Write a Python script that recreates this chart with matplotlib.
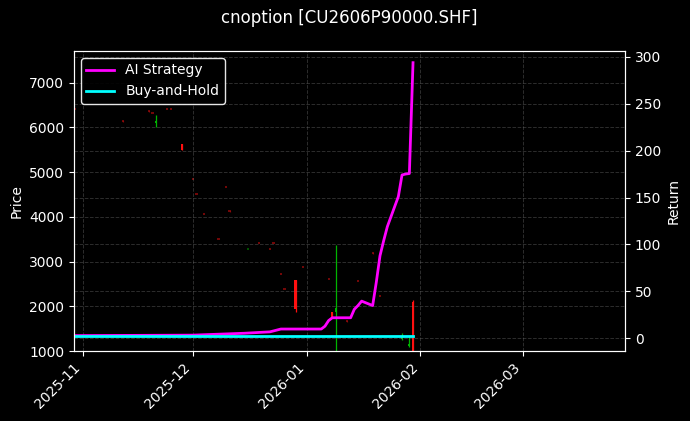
import matplotlib
matplotlib.use('Agg')
import matplotlib.pyplot as plt
import matplotlib.dates as mdates
import numpy as np
import pandas as pd

# candles: date, open, high, low, close
candle_dates = ['2025-10-30', '2025-11-12', '2025-11-19', '2025-11-20', '2025-11-21',
                '2025-11-24', '2025-11-25', '2025-11-28', '2025-12-01', '2025-12-02',
                '2025-12-04', '2025-12-08', '2025-12-10', '2025-12-11', '2025-12-16',
                '2025-12-19', '2025-12-22', '2025-12-23', '2025-12-25', '2025-12-26',
                '2025-12-29', '2025-12-31', '2026-01-07', '2026-01-08', '2026-01-09',
                '2026-01-12', '2026-01-15', '2026-01-19', '2026-01-21', '2026-01-27',
                '2026-01-29', '2026-01-30']
c_open = [6400, 6140, 6360, 6310, 6100, 6400, 6400, 5630, 4835, 4495,
          4050, 3490, 4655, 4125, 3255, 3400, 3265, 3400, 2705, 2370,
          2590, 2865, 2595, 1880, 1880, 1665, 2555, 3190, 2220, 1260,
          1110, 2100]
c_high = [6400, 6140, 6360, 6310, 6283, 6400, 6400, 5640, 4835, 4495,
          4050, 3490, 4655, 4125, 3265, 3400, 3265, 3400, 2705, 2370,
          2600, 2865, 2595, 1885, 3373, 1665, 2555, 3190, 2220, 1400,
          1330, 2150]
c_low = [6390, 6130, 6350, 6300, 6015, 6390, 6390, 5500, 4825, 4485,
         4040, 3480, 4645, 4115, 3250, 3390, 3255, 3390, 2695, 2360,
         1880, 2855, 2585, 1740, 900, 1655, 2545, 3180, 2210, 1245,
         1100, 900]
c_close = [6390, 6130, 6350, 6300, 6150, 6390, 6390, 5500, 4825, 4485,
           4040, 3480, 4645, 4115, 3265, 3390, 3255, 3390, 2695, 2360,
           1950, 2855, 2585, 1760, 1960, 1655, 2545, 3180, 2210, 1270,
           1120, 950]

# strategy returns
ai_dates = ['2025-10-30', '2025-12-01', '2025-12-15', '2025-12-22', '2025-12-25',
            '2026-01-05', '2026-01-06', '2026-01-07', '2026-01-08', '2026-01-13',
            '2026-01-14', '2026-01-15', '2026-01-16', '2026-01-19', '2026-01-20',
            '2026-01-21', '2026-01-22', '2026-01-23', '2026-01-26', '2026-01-27',
            '2026-01-28', '2026-01-29', '2026-01-30']
ai_ret = [3.0, 3.5, 5.5, 7.0, 10.0, 10.0, 13.0, 19.0, 22.0, 22.0,
          31.0, 35.0, 39.7, 35.0, 60.0, 88.0, 104.0, 119.0, 151.0, 174.0,
          175.0, 175.5, 293.5]
bh_dates = ['2025-10-30', '2025-12-01', '2026-01-02', '2026-01-30']
bh_ret = [3.0, 3.0, 3.0, 3.0]

plt.style.use('dark_background')
fig = plt.figure(figsize=(6.9, 4.21), dpi=100)
ax = fig.add_axes([0.107, 0.166, 0.799, 0.713])
ax2 = ax.twinx()

cd = mdates.date2num(pd.to_datetime(candle_dates))
o = np.array(c_open); h = np.array(c_high); l = np.array(c_low); c = np.array(c_close)
up = c >= o
small = (h - l) < 100
for i in range(len(cd)):
    col = '#00b400' if up[i] else '#ff1010'
    a = 0.45 if small[i] else 1.0
    body = max(abs(c[i] - o[i]), 45)
    ax.vlines(cd[i], l[i], h[i], colors=col, linewidth=0.9, alpha=a)
    ax.bar(cd[i], body, bottom=min(o[i], c[i]), width=0.6, color=col, linewidth=0, alpha=a)

ax2.plot(pd.to_datetime(ai_dates), ai_ret, color='#ff00ff', lw=2, label='AI Strategy')
ax2.plot(pd.to_datetime(bh_dates), bh_ret, color='#00ffff', lw=2, label='Buy-and-Hold')

ax.set_ylim(1000, 7709)
ax2.set_ylim(-13.5, 306)
ax.set_xlim(pd.Timestamp('2025-10-29 14:00'), pd.Timestamp('2026-03-28 19:00'))
ax.xaxis.set_major_locator(mdates.MonthLocator())
ax.xaxis.set_major_formatter(mdates.DateFormatter('%Y-%m'))
plt.setp(ax.get_xticklabels(), rotation=45, ha='right')

ax.grid(True, linestyle='--', color='gray', alpha=0.35, linewidth=0.7)
ax2.grid(True, linestyle='--', color='gray', alpha=0.35, linewidth=0.7)
ax.set_ylabel('Price')
ax2.set_ylabel('Return')
ax.set_title('cnoption [CU2606P90000.SHF]', pad=20)

leg = ax2.legend(loc='upper left', facecolor='black', edgecolor='white', framealpha=0.9)

fig.savefig('out.png', dpi=100, facecolor='black')
